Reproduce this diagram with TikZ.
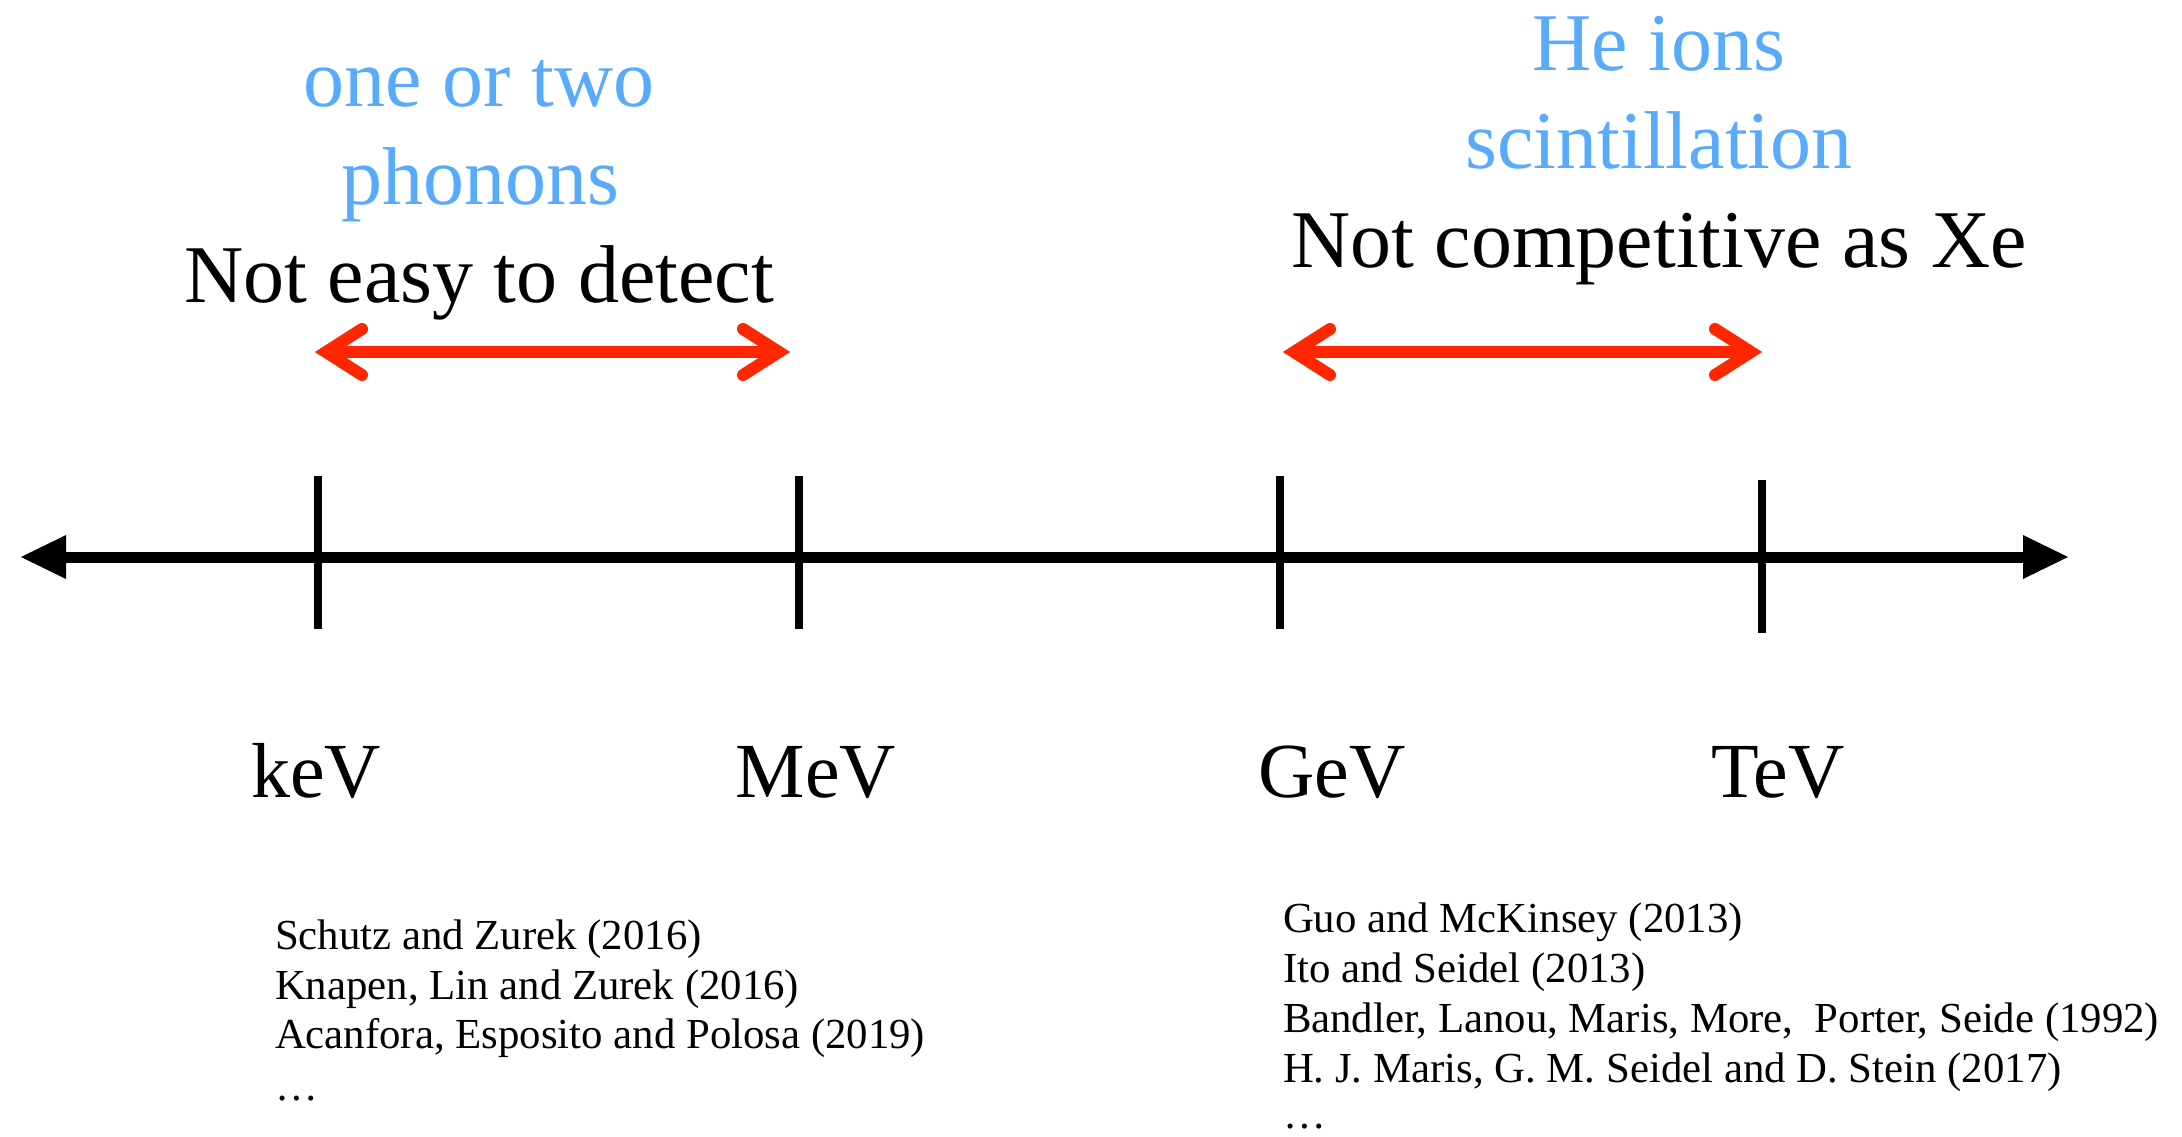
\documentclass[tikz,border=0pt]{standalone}
\usepackage{fontspec}
\setmainfont{Liberation Serif}
\usetikzlibrary{arrows.meta,calc}
\definecolor{arrowred}{RGB}{255,38,0}
\definecolor{labelblue}{RGB}{88,170,250}
\begin{document}
\begin{tikzpicture}[x=1pt,y=-1pt,
  every node/.style={inner sep=0pt,outer sep=0pt},
  headtext/.style={anchor=base,font=\fontsize{82}{96}\selectfont},
  bluetext/.style={headtext,text=labelblue},
  blacktext/.style={headtext,text=black},
  unittext/.style={anchor=base,font=\fontsize{78}{94}\selectfont},
  reftext/.style={anchor=base west,font=\fontsize{42.8}{50}\selectfont},
  axisline/.style={line width=11pt,draw=black},
  tickline/.style={line width=8pt,draw=black},
  redline/.style={line width=12pt,draw=arrowred},
  redbarb/.style={line width=12pt,draw=arrowred,line cap=round,line join=miter,miter limit=10}]
\useasboundingbox (0,0) rectangle (2182,1136);
% axis
\coordinate (axL) at (21,557);
\coordinate (axR) at (2068,557);
\draw[axisline] ($(axL)+(40,0)$) -- ($(axR)+(-40,0)$);
\fill (axL) -- ++(45,-22) -- ++(0,44) -- cycle;
\fill (axR) -- ++(-45,-22) -- ++(0,44) -- cycle;
% ticks
\coordinate (tkA) at (318,476); \coordinate (tkAb) at (318,629);
\coordinate (tkB) at (799,476); \coordinate (tkBb) at (799,629);
\coordinate (tkC) at (1280,476); \coordinate (tkCb) at (1280,629);
\coordinate (tkD) at (1762,480); \coordinate (tkDb) at (1762,633);
\draw[tickline] (tkA) -- (tkAb);
\draw[tickline] (tkB) -- (tkBb);
\draw[tickline] (tkC) -- (tkCb);
\draw[tickline] (tkD) -- (tkDb);
% unit labels
\node[unittext] (kev) at (316,797) {keV};
\node[unittext] (mev) at (816,797) {MeV};
\node[unittext] (gev) at (1332,797) {GeV};
\node[unittext] (tev) at (1778,797) {TeV};
% red arrows
\coordinate (raL) at (326,352);
\coordinate (raR) at (779,352);
\draw[redline] (raL) -- (raR);
\draw[redbarb] ($(raL)+(36,-23)$) -- (raL) -- ($(raL)+(36,23)$);
\draw[redbarb] ($(raR)+(-36,-23)$) -- (raR) -- ($(raR)+(-36,23)$);
\coordinate (rbL) at (1294,352);
\coordinate (rbR) at (1751,352);
\draw[redline] (rbL) -- (rbR);
\draw[redbarb] ($(rbL)+(36,-23)$) -- (rbL) -- ($(rbL)+(36,23)$);
\draw[redbarb] ($(rbR)+(-36,-23)$) -- (rbR) -- ($(rbR)+(-36,23)$);
% headings
\node[bluetext] (b1) at (479,106) {one or two};
\node[bluetext] (b2) at (480,204) {phonons};
\node[blacktext] (k1) at (479,302) {Not easy to detect};
\node[bluetext] (b3) at (1659,70) {He ions};
\node[bluetext] (b4) at (1659,168) {scintillation};
\node[blacktext] (k2) at (1659,267) {Not competitive as Xe};
% references left
\node[reftext] (r1) at (275,949) {Schutz and Zurek (2016)};
\node[reftext] (r2) at (275,999) {Knapen, Lin and Zurek (2016)};
\node[reftext] (r3) at (275,1048) {Acanfora, Esposito and Polosa (2019)};
\node[reftext] (r4) at (275,1100) {…};
% references right
\node[reftext] (s1) at (1283,932) {Guo and McKinsey (2013)};
\node[reftext] (s2) at (1283,982) {Ito and Seidel (2013)};
\node[reftext] (s3) at (1283,1032) {Bandler, Lanou, Maris, More,\ \ Porter, Seide (1992)};
\node[reftext] (s4) at (1283,1082) {H. J. Maris, G. M. Seidel and D. Stein (2017)};
\node[reftext] (s5) at (1283,1128) {…};
\end{tikzpicture}
\end{document}
